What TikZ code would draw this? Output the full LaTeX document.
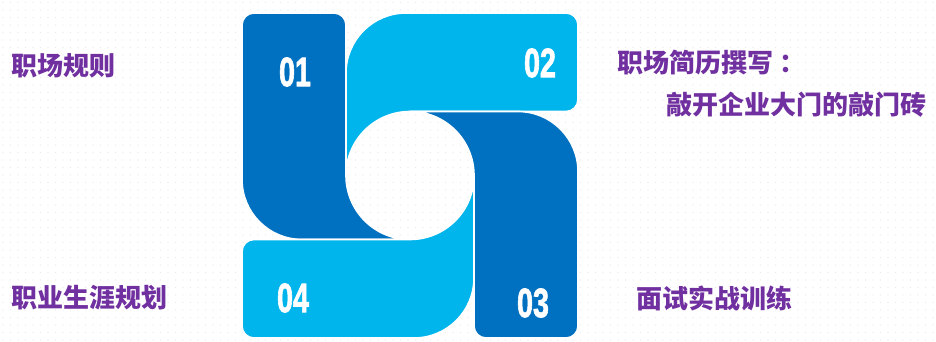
\documentclass[tikz,border=0pt]{standalone}
\usepackage{fontspec}
\setmainfont{Liberation Sans}
\newfontfamily\cjk{Noto Sans CJK SC}
\newfontfamily\numfont{Liberation Sans Bold}[FakeBold=2]
\definecolor{darkblue}{HTML}{0070C0}
\definecolor{lightblue}{HTML}{00B4EC}
\definecolor{topicpurple}{HTML}{7030A0}

\begin{document}
\begin{tikzpicture}[x=1pt, y=1pt,
    piece/.style={draw=white, line width=1.6pt},
    num/.style={text=white, font=\numfont\fontsize{41}{41}\selectfont, xscale=0.7, inner sep=0pt},
    topic/.style={text=topicpurple, font=\cjk\bfseries\fontsize{26}{26}\selectfont, anchor=west, inner sep=0pt}]

    % ====== Pinwheel geometry ======
    \def\cx{410}   % centre of the hole
    \def\cy{166.5}
    \def\hw{168}   % half width of the block
    \def\hh{162.5} % half height of the block
    \def\r{64}     % radius of the hole
    \def\R{60}     % big outer corner
    \def\s{12}     % small corners

    \useasboundingbox (0,0) rectangle (936,342);
    \fill[white] (0,0) rectangle (936,342);

    % ===== Dotted background =====
    \foreach \i in {0,...,124} {
        \foreach \j in {0,...,45} {
            \fill[gray!18] ({\i*7.5+3},{\j*7.5+2}) circle (0.55);
        }
    }

    % ===== Piece 01 (top left) =====
    \filldraw[piece, fill=darkblue]
        ({\cx-\r},\cy) arc[start angle=180, end angle=270, radius=\r]
        -- ({\cx-\hw+\R},{\cy-\r}) arc[start angle=270, end angle=180, radius=\R]
        -- ({\cx-\hw},{\cy+\hh-\s}) arc[start angle=180, end angle=90, radius=\s]
        -- ({\cx-\r-\s},{\cy+\hh}) arc[start angle=90, end angle=0, radius=\s]
        -- cycle;

    % ===== Piece 02 (top right) =====
    \filldraw[piece, fill=lightblue]
        (\cx,{\cy+\r}) arc[start angle=90, end angle=180, radius=\r]
        -- ({\cx-\r},{\cy+\hh-\R}) arc[start angle=180, end angle=90, radius=\R]
        -- ({\cx+\hw-\s},{\cy+\hh}) arc[start angle=90, end angle=0, radius=\s]
        -- ({\cx+\hw},{\cy+\r+\s}) arc[start angle=0, end angle=-90, radius=\s]
        -- cycle;

    % ===== Piece 03 (bottom right) =====
    \filldraw[piece, fill=darkblue]
        ({\cx+\r},\cy) arc[start angle=0, end angle=90, radius=\r]
        -- ({\cx+\hw-\R},{\cy+\r}) arc[start angle=90, end angle=0, radius=\R]
        -- ({\cx+\hw},{\cy-\hh+\s}) arc[start angle=0, end angle=-90, radius=\s]
        -- ({\cx+\r+\s},{\cy-\hh}) arc[start angle=-90, end angle=-180, radius=\s]
        -- cycle;

    % ===== Piece 04 (bottom left) =====
    \filldraw[piece, fill=lightblue]
        (\cx,{\cy-\r}) arc[start angle=-90, end angle=0, radius=\r]
        -- ({\cx+\r},{\cy-\hh+\R}) arc[start angle=0, end angle=-90, radius=\R]
        -- ({\cx-\hw+\s},{\cy-\hh}) arc[start angle=-90, end angle=-180, radius=\s]
        -- ({\cx-\hw},{\cy-\r-\s}) arc[start angle=180, end angle=90, radius=\s]
        -- cycle;

    % ===== Numbers =====
    \node[num] (num01) at (295,270) {01};
    \node[num] (num02) at (540,279) {02};
    \node[num] (num03) at (533,39) {03};
    \node[num] (num04) at (293,44) {04};

    % ===== Topics =====
    \node[topic] (topic01) at (11,276) {职场规则};
    \node[topic] (topic02) at (617,279) {职场简历撰写\kern6pt：};
    \node[topic] (topic02b) at (666,237) {敲开企业大门的敲门砖};
    \node[topic] (topic03) at (636,44) {面试实战训练};
    \node[topic] (topic04) at (11,44) {职业生涯规划};

\end{tikzpicture}
\end{document}
